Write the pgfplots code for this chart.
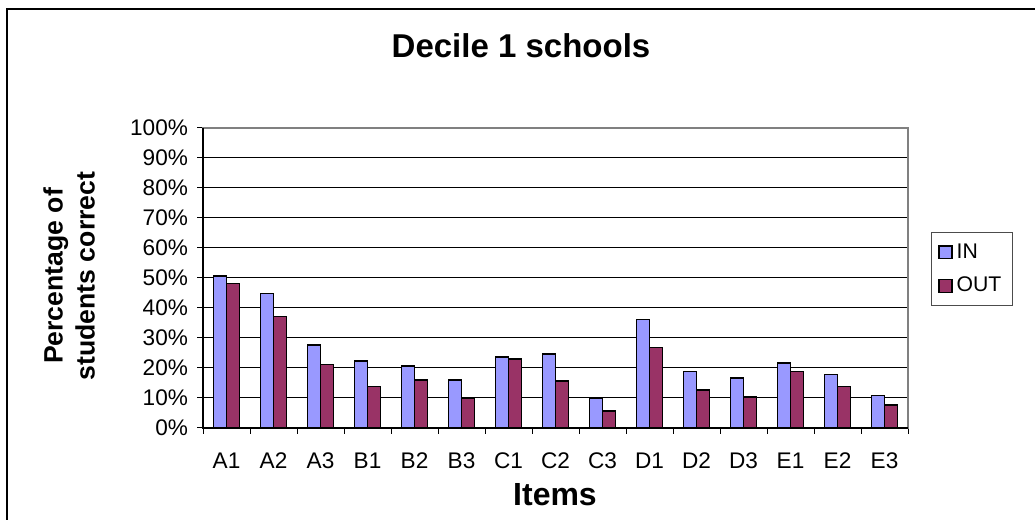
\documentclass[border=0pt]{standalone}
\usepackage{fontspec}
\setmainfont{Liberation Sans}
\usepackage{pgfplots}
\pgfplotsset{compat=1.18}
\definecolor{inblue}{HTML}{9999FF}
\definecolor{outred}{HTML}{993366}
\begin{document}
\begin{tikzpicture}[x=1pt,y=1pt]
\useasboundingbox (0,0) rectangle (517.5,260);
\draw[line width=1pt] (3.5,0) -- (3.5,255.5) -- (517.5,255.5);
\node[font=\fontsize{16.5}{19}\selectfont\bfseries] at (260.5,237) {Decile 1 schools};
\node[font=\fontsize{13.3}{16}\selectfont\bfseries, rotate=90, align=center] at (34.5,122) {Percentage of\\students correct};
\node[font=\fontsize{16}{19}\selectfont\bfseries] at (277.5,12.5) {Items};
\begin{axis}[
  at={(101.5pt,46pt)}, anchor=south west,
  scale only axis, width=352.5pt, height=150pt,
  ybar=0pt, bar width=6.6pt,
  xmin=-0.5, xmax=14.5, ymin=0, ymax=100,
  xtick={0,...,14},
  xticklabels={A1,A2,A3,B1,B2,B3,C1,C2,C3,D1,D2,D3,E1,E2,E3},
  minor xtick={-0.5,0.5,...,14.5},
  ytick={0,10,...,100},
  yticklabels={0\%,10\%,20\%,30\%,40\%,50\%,60\%,70\%,80\%,90\%,100\%},
  tick label style={font=\fontsize{11.3}{13}\selectfont},
  major x tick style={draw=none},
  minor x tick style={black, line width=0.5pt},
  major y tick style={black, line width=0.5pt},
  tick align=outside, major tick length=3pt, minor tick length=3pt,
  xtick pos=bottom, ytick pos=left,
  ymajorgrids, grid style={black, line width=0.5pt},
  axis line style={draw=gray, line width=0.8pt},
  xticklabel style={yshift=-6pt},
  yticklabel style={xshift=-1pt},
  clip=false,
  legend style={at={(1.0326,0.6533)}, anchor=north west,
    draw=black!70, line width=0.5pt, font=\fontsize{10.6}{12.5}\selectfont,
    inner xsep=3.5pt, inner ysep=3.5pt, row sep=4pt, cells={anchor=west}},
  legend image code/.code={\draw[#1, line width=0.7pt] (0pt,-3.2pt) rectangle (6.4pt,3.2pt);},
]
\addplot[fill=inblue, draw=black, line width=0.75pt] coordinates {
(0,50.6) (1,44.8) (2,27.6) (3,22.4) (4,20.7) (5,16.0) (6,23.6) (7,24.7)
(8,9.8) (9,36.1) (10,18.9) (11,16.7) (12,21.7) (13,17.8) (14,10.9)};
\addplot[fill=outred, draw=black, line width=0.75pt] coordinates {
(0,48.2) (1,37.2) (2,21.1) (3,13.8) (4,16.0) (5,9.8) (6,23.0) (7,15.6)
(8,5.7) (9,26.9) (10,12.7) (11,10.4) (12,18.9) (13,13.8) (14,7.6)};
\legend{IN,OUT}
\draw[black, line width=0.8pt] (axis cs:-0.5,100) -- (axis cs:-0.5,0) -- (axis cs:14.5,0);
\end{axis}
\end{tikzpicture}
\end{document}
